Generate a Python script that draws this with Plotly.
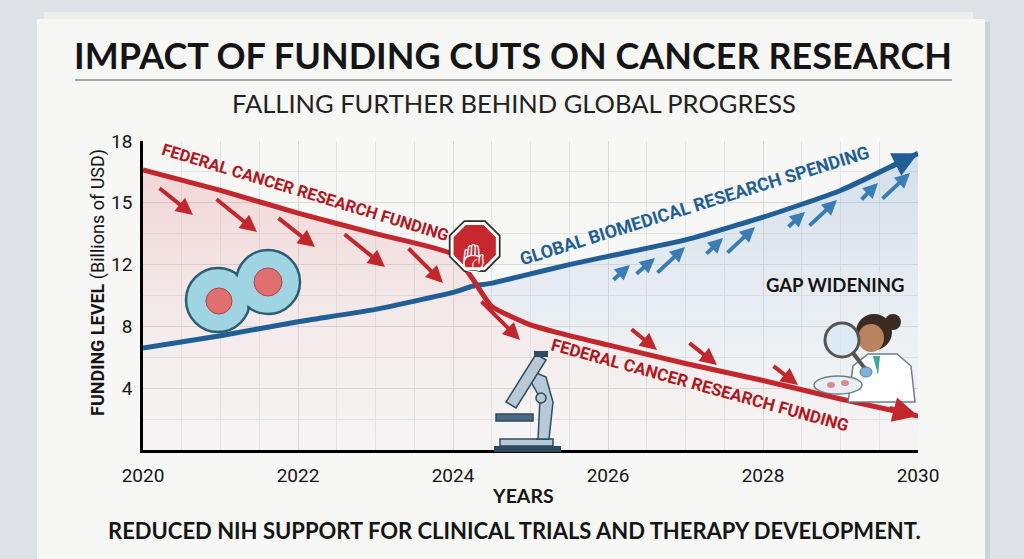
import numpy as np
import plotly.graph_objects as go

# data (billions of USD)
years = [2020, 2021, 2022, 2023, 2024, 2024.25, 2024.5, 2025, 2025.5, 2026, 2027, 2028, 2029, 2030]
federal_funding = [16.6, 15.6, 14.5, 13.5, 12.5, 11.1, 9.3, 8.1, 7.4, 6.8, 5.6, 4.5, 3.3, 2.2]
global_spending = [6.6, 7.4, 8.3, 9.1, 10.2, 10.6, 10.8, 11.4, 12.0, 12.4, 13.2, 14.3, 15.6, 17.4]

y_tick_labels = [4, 8, 12, 15, 18]
x_tick_labels = [2020, 2022, 2024, 2026, 2028, 2030]

RED = "#c3262b"
BLUE = "#1f5f96"
BLUE_LIGHT = "#3a7db5"
INK = "#151515"
STEEL = "#b7c9d6"
STEEL_DARK = "#2e4a5f"

# the y axis in the picture is stretched above 12 (12 -> 15 -> 18 take the same room as 4 steps)
def yscale(v):
    return np.interp(v, [0, 12, 18], [0, 12, 20])

fed = yscale(federal_funding)
glob = yscale(global_spending)

# plot area in pixels, used to place the decorations around it
L, R, T, B = 143, 918, 141, 450


def px(x):
    return (x - L) / (R - L)


def py(y):
    return (B - y) / (B - T)


def rect(x0, y0, x1, y1, fill, line=None, lw=1.5, layer="above"):
    return dict(type="rect", xref="paper", yref="paper", x0=px(x0), x1=px(x1), y0=py(y1), y1=py(y0),
                fillcolor=fill, line=dict(color=line or fill, width=lw if line else 0), layer=layer)


def circle(cx, cy, rx, ry, fill, line=None, lw=1.5):
    return dict(type="circle", xref="paper", yref="paper", x0=px(cx - rx), x1=px(cx + rx),
                y0=py(cy + ry), y1=py(cy - ry),
                fillcolor=fill, line=dict(color=line or fill, width=lw if line else 0))


def poly(points, fill, line=None, lw=1.5):
    d = "M " + " L ".join(f"{px(x):.4f},{py(y):.4f}" for x, y in points) + " Z"
    return dict(type="path", xref="paper", yref="paper", path=d,
                fillcolor=fill, line=dict(color=line or fill, width=lw if line else 0))


fig = go.Figure()

# pink area under the federal line
fig.add_trace(go.Scatter(
    x=years, y=fed, mode="lines", line=dict(width=0, shape="spline", smoothing=0.5),
    fill="tozeroy",
    fillgradient=dict(type="vertical", colorscale=[[0, "rgba(215,190,205,0.05)"], [0.6, "rgba(228,150,155,0.18)"],
                                                   [1, "rgba(225,120,125,0.26)"]]),
    hoverinfo="skip", showlegend=False,
))

# blue gap after the lines cross
k = years.index(2024.25)
fig.add_trace(go.Scatter(
    x=years[k:], y=fed[k:], mode="lines", line=dict(width=0, shape="spline", smoothing=0.5),
    hoverinfo="skip", showlegend=False,
))
fig.add_trace(go.Scatter(
    x=years[k:], y=glob[k:], mode="lines", line=dict(width=0, shape="spline", smoothing=0.5),
    fill="tonexty",
    fillgradient=dict(type="vertical", colorscale=[[0, "rgba(215,228,240,0.15)"], [1, "rgba(130,170,210,0.32)"]]),
    hoverinfo="skip", showlegend=False,
))

# the two lines
fig.add_trace(go.Scatter(
    x=years, y=glob, mode="lines", name="Global biomedical research spending",
    line=dict(color=BLUE, width=5, shape="spline", smoothing=0.5), showlegend=False,
))
fig.add_trace(go.Scatter(
    x=years, y=fed, mode="lines", name="Federal cancer research funding",
    line=dict(color=RED, width=5, shape="spline", smoothing=0.5), showlegend=False,
))

# stop sign where the lines meet
stop_x, stop_y = 2024.28, yscale(12.9)
fig.add_trace(go.Scatter(
    x=[stop_x], y=[stop_y], mode="markers",
    marker=dict(symbol="octagon", size=56, color="#2e2e2e", line=dict(width=0)),
    hoverinfo="skip", showlegend=False, cliponaxis=False,
))
fig.add_trace(go.Scatter(
    x=[stop_x], y=[stop_y], mode="markers",
    marker=dict(symbol="octagon", size=49, color="#c8282d", line=dict(color="white", width=3)),
    hoverinfo="skip", showlegend=False, cliponaxis=False,
))

shapes = [
    # paper sheets
    rect(44, 12, 973, 559, "#eeeeee", layer="below"),
    rect(40, 22, 990, 565, "rgba(0,0,0,0.07)", layer="below"),
    rect(37, 19, 985, 565, "#f7f7f6", layer="below"),
    # title rule
    dict(type="line", xref="paper", yref="paper", x0=px(75), x1=px(952), y0=py(80), y1=py(80),
         line=dict(color="#8a8a8a", width=1.5)),
    # cell: two lobes, outlines first, then a fill on top so they merge
    circle(218, 300, 32, 32, "#9fd4e3", "#2b5d74", 2.5),
    circle(268, 282, 32, 32, "#9fd4e3", "#2b5d74", 2.5),
    circle(218, 300, 30, 30, "#9fd4e3"),
    circle(219, 301, 13, 13, "#e06f6f", "#b04545", 1),
    circle(268, 282, 14, 14, "#e06f6f", "#b04545", 1),
    # microscope
    rect(494, 446, 561, 452, STEEL_DARK),
    rect(500, 439, 553, 446, STEEL, STEEL_DARK),
    poly([(536, 439), (549, 439), (553, 402), (546, 377), (534, 372), (530, 380), (540, 398), (538, 439)],
         STEEL, STEEL_DARK),
    rect(496, 414, 533, 421, "#4a6a82", STEEL_DARK),
    poly([(546, 360), (536, 354), (506, 402), (516, 408)], STEEL, STEEL_DARK),
    rect(534, 351, 548, 357, STEEL_DARK),
    circle(541, 398, 5, 5, STEEL, STEEL_DARK),
    # scientist with magnifier and petri dish
    poly([(848, 402), (853, 366), (868, 354), (897, 354), (911, 366), (915, 402)], "white", "#6b7f8c"),
    poly([(873, 356), (880, 356), (878, 375)], "#3aa7a3"),
    circle(893, 322, 8, 8, "#3b2a20"),
    circle(874, 332, 18, 18, "#3b2a20"),
    circle(871, 338, 13, 14, "#b9835f"),
    circle(838, 385, 24, 9, "#e8eef2", "#6b7f8c"),
    circle(831, 385, 4, 3, "#d98a8a"),
    circle(845, 383, 4, 3, "#d98a8a"),
    dict(type="line", xref="paper", yref="paper", x0=px(853), y0=py(353), x1=px(866), y1=py(370),
         line=dict(color="#555555", width=4)),
    circle(842, 340, 17, 17, "rgba(215,232,245,0.7)", "#555555", 3),
    circle(866, 372, 6, 5, "#7fb2d9", "#4d7da3", 1),
]

annotations = [
    dict(text="<b>IMPACT OF FUNDING CUTS ON CANCER RESEARCH</b>", x=px(513), y=py(55),
         font=dict(family="Lato", size=36, color=INK)),
    dict(text="FALLING FURTHER BEHIND GLOBAL PROGRESS", x=px(514), y=py(103),
         font=dict(family="Lato", size=25.5, color="#222222")),
    dict(text="<b>REDUCED NIH SUPPORT FOR CLINICAL TRIALS AND THERAPY DEVELOPMENT.</b>", x=px(514), y=py(530),
         font=dict(family="Lato", size=22, color=INK)),
    dict(text="<b>YEARS</b>", x=px(523), y=py(495), font=dict(family="Lato", size=19.5, color=INK)),
    dict(text="<b>FUNDING LEVEL</b> (Billions of USD)", x=px(98), y=py(283), textangle=-90,
         font=dict(family="Roboto", size=18, color=INK)),
    dict(text="<b>FEDERAL CANCER RESEARCH FUNDING</b>", x=px(305), y=py(192), textangle=16.9,
         font=dict(family="Roboto", size=16.5, color="#b3161c")),
    dict(text="<b>FEDERAL CANCER RESEARCH FUNDING</b>", x=px(700), y=py(385), textangle=15.4,
         font=dict(family="Roboto", size=17, color="#b3161c")),
    dict(text="<b>GLOBAL BIOMEDICAL RESEARCH SPENDING</b>", x=px(694), y=py(205), textangle=-17.2,
         font=dict(family="Roboto", size=18, color=BLUE)),
    dict(text="<b>GAP WIDENING</b>", x=px(835), y=py(285), font=dict(family="Lato", size=18.5, color=INK)),
    # hand on the stop sign
    dict(text="\u270b\ufe0e", x=px(473), y=py(258), font=dict(family="DejaVu Sans", size=40, color="white")),
]
for a in annotations:
    a.update(xref="paper", yref="paper", showarrow=False, xanchor="center", yanchor="middle")

# small trend arrows (tail -> head, pixels)
red_arrows = [((158, 187), (193, 215)), ((215, 198), (257, 232)), ((277, 217), (315, 247)),
              ((343, 233), (385, 267)), ((407, 247), (443, 283)), ((480, 300), (520, 340)),
              ((630, 328), (657, 350)), ((688, 342), (717, 365)), ((772, 365), (798, 385))]
blue_arrows = [((612, 281), (630, 265)), ((635, 275), (655, 258)), ((656, 274), (685, 247)),
               ((705, 255), (723, 238)), ((726, 254), (755, 227)), ((787, 228), (805, 212)),
               ((808, 227), (837, 200)), ((860, 201), (878, 183)), ((881, 200), (910, 173))]
for arrows, col, size in [(red_arrows, RED, 0.85), (blue_arrows, BLUE_LIGHT, 0.75)]:
    for (tx, ty), (hx, hy) in arrows:
        annotations.append(dict(xref="paper", yref="paper", x=px(hx), y=py(hy), ax=tx - hx, ay=ty - hy,
                                text="", showarrow=True, arrowhead=2, arrowsize=size, arrowwidth=4,
                                arrowcolor=col))

# arrowheads at the line ends
annotations.append(dict(x=years[-1], y=fed[-1], ax=-30, ay=-8, text="", showarrow=True,
                        arrowhead=2, arrowsize=1, arrowwidth=5, arrowcolor=RED))
annotations.append(dict(x=years[-1], y=glob[-1], ax=-28, ay=14, text="", showarrow=True,
                        arrowhead=2, arrowsize=1, arrowwidth=5, arrowcolor=BLUE))

fig.update_layout(
    width=1024, height=559,
    margin=dict(l=L, r=1024 - R, t=T, b=559 - B),
    paper_bgcolor="#dee2e6",
    plot_bgcolor="rgba(0,0,0,0)",
    shapes=shapes,
    annotations=annotations,
    showlegend=False,
    font=dict(family="Roboto", color=INK),
)
fig.update_xaxes(
    range=[2020, 2030], tickvals=x_tick_labels, ticktext=[str(v) for v in x_tick_labels],
    showgrid=True, gridcolor="#d9d9d9", gridwidth=1,
    minor=dict(dtick=0.5, showgrid=True, gridcolor="#e4e4e4"),
    showline=True, linecolor="black", linewidth=2.5, zeroline=False,
    tickfont=dict(size=19, color=INK), ticklabelstandoff=6,
)
fig.update_yaxes(
    range=[0, 20], tickvals=yscale(y_tick_labels), ticktext=[str(v) for v in y_tick_labels],
    showgrid=True, gridcolor="#d9d9d9", gridwidth=1,
    minor=dict(tickvals=[2, 6, 10, 14, 18], showgrid=True, gridcolor="#e4e4e4"),
    showline=True, linecolor="black", linewidth=2.5, zeroline=False,
    tickfont=dict(size=19, color=INK), ticklabelstandoff=4,
)

# drop the browser's default body margin so the figure sits at the window's top-left corner
fig.write_html("out.html", config={"displayModeBar": False},
               post_script="document.body.style.margin='0';")
